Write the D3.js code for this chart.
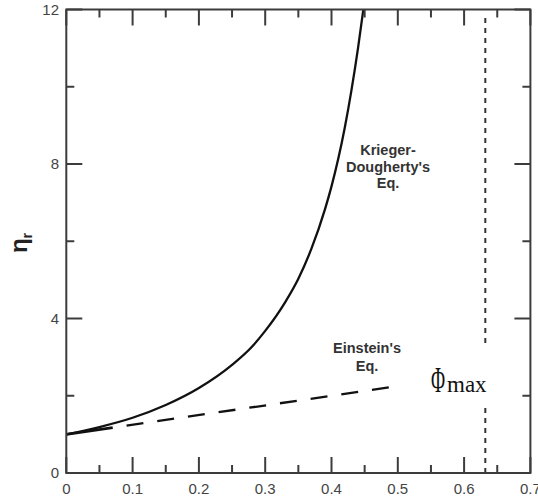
<!DOCTYPE html>
<html>
<head>
<meta charset="utf-8">
<script src="https://cdn.jsdelivr.net/npm/d3@7"></script>
<style>
  html, body { margin: 0; padding: 0; background: #fff; }
  svg { display: block; }
</style>
</head>
<body>
<svg id="chart" width="538" height="496"></svg>
<script>
// Relative viscosity vs. volume fraction
const kdPhi = [0, 0.05, 0.10, 0.15, 0.20, 0.25, 0.28, 0.30, 0.33, 0.35, 0.37, 0.39, 0.40, 0.41, 0.42, 0.43, 0.44, 0.448];
const kdEta = [1.00, 1.19, 1.43, 1.76, 2.20, 2.80, 3.27, 3.68, 4.42, 5.03, 5.82, 6.82, 7.42, 8.12, 8.94, 9.90, 11.00, 12.0];

const einsteinPhi = [0, 0.07, 0.49];
const einsteinEta = [1.00, 1.175, 2.225];

const phiMax = 0.632;

const xMajorTicks = [0, 0.1, 0.2, 0.3, 0.4, 0.5, 0.6, 0.7];
const xMinorTicks = [0.05, 0.15, 0.25, 0.35, 0.45, 0.55, 0.65];
const yMajorTicks = [0, 4, 8, 12];
const yMinorTicks = [2, 6, 10];
const xTickLabels = ["0", "0.1", "0.2", "0.3", "0.4", "0.5", "0.6", "0.7"];
const yTickLabels = ["0", "4", "8", "12"];

const svg = d3.select("#chart");
const plotLeft = 66.3, plotRight = 530.4, plotTop = 9.5, plotBottom = 473;

const x = d3.scaleLinear().domain([0, 0.7]).range([plotLeft, plotRight]);
const y = d3.scaleLinear().domain([0, 12]).range([plotBottom, plotTop]);

const axisColor = "#3c3c3c";
const inkColor = "#111";
const font = "Arial, 'Liberation Sans', Helvetica, sans-serif";

// Curves
const line = d3.line().x(d => x(d[0])).y(d => y(d[1])).curve(d3.curveMonotoneX);

svg.append("path")
  .datum(kdPhi.map((p, i) => [p, kdEta[i]]))
  .attr("d", line)
  .attr("fill", "none")
  .attr("stroke", inkColor)
  .attr("stroke-width", 2.3);

const einstein = einsteinPhi.map((p, i) => [p, einsteinEta[i]]);
const straight = d3.line().x(d => x(d[0])).y(d => y(d[1]));

// overlap with the K-D curve at low concentration: solid
svg.append("path")
  .datum(einstein.slice(0, 2))
  .attr("d", straight)
  .attr("fill", "none")
  .attr("stroke", inkColor)
  .attr("stroke-width", 3);

svg.append("path")
  .datum(einstein.slice(1))
  .attr("d", straight)
  .attr("fill", "none")
  .attr("stroke", inkColor)
  .attr("stroke-width", 2.3)
  .attr("stroke-dasharray", "17,14")
  .attr("stroke-dashoffset", 17);

// Maximum packing fraction
svg.append("line")
  .attr("x1", x(phiMax)).attr("x2", x(phiMax))
  .attr("y1", y(0)).attr("y2", y(11.86))
  .attr("stroke", "#333")
  .attr("stroke-width", 2)
  .attr("stroke-dasharray", "5,5");

// label box over the dashed line
svg.append("rect")
  .attr("x", 425).attr("y", 343)
  .attr("width", 70).attr("height", 60)
  .attr("fill", "#fff");

svg.append("text")
  .attr("transform", "translate(431,392) scale(0.55,1)")
  .attr("font-family", "'Liberation Serif', 'Times New Roman', serif")
  .attr("font-size", 35)
  .attr("fill", "#111")
  .text("Φ");
svg.append("text")
  .attr("x", 447)
  .attr("y", 392)
  .attr("font-family", "'Liberation Serif', 'Times New Roman', serif")
  .attr("font-size", 23)
  .attr("fill", "#111")
  .text("max");

// Frame
svg.append("rect")
  .attr("x", plotLeft).attr("y", plotTop)
  .attr("width", plotRight - plotLeft).attr("height", plotBottom - plotTop)
  .attr("fill", "none")
  .attr("stroke", axisColor)
  .attr("stroke-width", 2);

// Ticks, inward on all four sides
const ticks = svg.append("g").attr("stroke", axisColor).attr("stroke-width", 2);
const major = 16, minor = 8;
xMajorTicks.concat(xMinorTicks).forEach(v => {
  const len = xMajorTicks.includes(v) ? major : minor;
  ticks.append("line").attr("x1", x(v)).attr("x2", x(v)).attr("y1", plotBottom).attr("y2", plotBottom - len);
  ticks.append("line").attr("x1", x(v)).attr("x2", x(v)).attr("y1", plotTop).attr("y2", plotTop + len);
});
yMajorTicks.concat(yMinorTicks).forEach(v => {
  const len = yMajorTicks.includes(v) ? major : minor;
  ticks.append("line").attr("y1", y(v)).attr("y2", y(v)).attr("x1", plotLeft).attr("x2", plotLeft + len);
  ticks.append("line").attr("y1", y(v)).attr("y2", y(v)).attr("x1", plotRight).attr("x2", plotRight - len);
});

// Tick labels
svg.append("g").selectAll("text")
  .data(xMajorTicks)
  .join("text")
  .attr("x", d => x(d))
  .attr("y", 494)
  .attr("text-anchor", "middle")
  .attr("font-family", font)
  .attr("font-size", 15)
  .attr("fill", "#444")
  .text((d, i) => xTickLabels[i]);

svg.append("g").selectAll("text")
  .data(yMajorTicks)
  .join("text")
  .attr("x", 59)
  .attr("y", d => y(d))
  .attr("dy", "0.36em")
  .attr("text-anchor", "end")
  .attr("font-family", font)
  .attr("font-size", 15)
  .attr("fill", "#444")
  .text((d, i) => yTickLabels[i]);

// Y axis title
const yTitle = svg.append("text")
  .attr("transform", "translate(27,243) rotate(-90)")
  .attr("text-anchor", "middle")
  .attr("font-family", font)
  .attr("font-weight", "bold")
  .attr("fill", "#222");
yTitle.append("tspan").attr("font-size", 24).text("η");
yTitle.append("tspan").attr("font-size", 14).attr("dy", 5).text("r");

// Curve annotations
const note = (lines, cx, y0, step) => {
  const t = svg.append("text")
    .attr("text-anchor", "middle")
    .attr("font-family", font)
    .attr("font-weight", "bold")
    .attr("font-size", 14.5)
    .attr("fill", "#333");
  lines.forEach((s, i) => t.append("tspan").attr("x", cx).attr("y", y0 + i * step).text(s));
};
note(["Krieger-", "Dougherty's", "Eq."], 388, 155, 16.5);
note(["Einstein's", "Eq."], 367, 353, 17.5);
</script>
</body>
</html>
